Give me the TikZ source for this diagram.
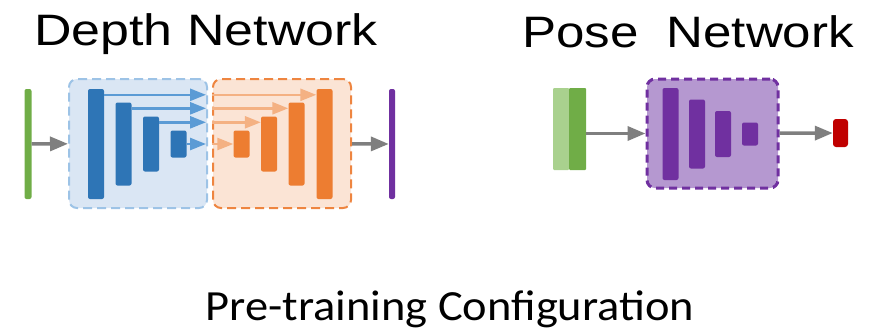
\documentclass[tikz,border=0pt]{standalone}
\usepackage{fontspec}
\setmainfont{Liberation Sans}
\newfontfamily\captionfont{Carlito}
\usepackage{graphicx}
\usetikzlibrary{arrows.meta}

\definecolor{encblue}{HTML}{2E75B6}
\definecolor{encfill}{HTML}{DAE6F4}
\definecolor{encline}{HTML}{9DC3E6}
\definecolor{skipblue}{HTML}{5B9BD5}
\definecolor{decorange}{HTML}{ED7D31}
\definecolor{decfill}{HTML}{FBE4D5}
\definecolor{decline}{HTML}{EE8540}
\definecolor{skiporange}{HTML}{F4B183}
\definecolor{imggreen}{HTML}{70AD47}
\definecolor{imglight}{HTML}{A9D18E}
\definecolor{posepurple}{HTML}{7030A0}
\definecolor{posefill}{HTML}{B598D0}
\definecolor{outred}{HTML}{C00000}
\definecolor{flowgray}{HTML}{7F7F7F}

\tikzset{
	bar/.style={draw=none, inner sep=0pt, rounded corners=2bp, minimum width=16bp},
	netbox/.style={inner sep=0pt, rounded corners=8bp, line width=2bp, dash pattern=on 9bp off 5bp},
	flow/.style={draw=flowgray, fill=flowgray, line width=3.5bp, -{Triangle[length=18bp,width=14bp]}},
	skip/.style={line width=2.5bp, -{Triangle[length=16bp,width=12bp]}},
}

\begin{document}
\begin{tikzpicture}[x=1bp, y=-1bp]
	\useasboundingbox (0,0) rectangle (894,330);

	% titles
	\node[anchor=base, inner sep=0pt] (tdepth) at (206,45) {\scalebox{1.18}[1]{\fontsize{44bp}{50bp}\selectfont Depth Network}};
	\node[anchor=base, inner sep=0pt] (tpose) at (688,47) {\scalebox{1.16}[1]{\fontsize{44bp}{50bp}\selectfont Pose\ \ Network}};
	\node[anchor=base, inner sep=0pt] (tconf) at (450,320) {\scalebox{1.08}[1]{\captionfont\fontsize{43bp}{50bp}\selectfont Pre-training Configuration}};

	% depth network
	\node[netbox, draw=encline, fill=encfill, minimum width=138bp, minimum height=129bp] (enc) at (138,143.5) {};
	\node[netbox, draw=decline, fill=decfill, minimum width=138bp, minimum height=129bp] (dec) at (282,143.5) {};
	\node[bar, fill=imggreen, minimum width=7bp, minimum height=110bp] (img) at (28,144) {};
	\node[bar, fill=posepurple, minimum width=6bp, minimum height=110bp] (depth) at (392,144) {};

	\foreach \i/\x/\h in {1/96/110, 2/123.5/83, 3/151/55, 4/178.5/27}
		\node[bar, fill=encblue, minimum height=\h bp] (e\i) at (\x,144) {};
	\foreach \i/\x/\h in {1/324.5/110, 2/296.5/83, 3/269/55, 4/241.5/27}
		\node[bar, fill=decorange, minimum height=\h bp] (d\i) at (\x,144) {};

	\foreach \i in {1,2,3}
		\draw[skip, draw=skipblue, fill=skipblue, shorten >=2bp] ([yshift=-6bp]e\i.north east) -- ([yshift=-6bp]e\i.north east -| enc.east);
	\draw[skip, draw=skipblue, fill=skipblue, shorten >=2bp] (e4.east) -- (e4.east -| enc.east);
	\foreach \i in {1,2,3}
		\draw[skip, draw=skiporange, fill=skiporange] ([yshift=-6bp]d\i.north west -| dec.west) -- ([yshift=-6bp]d\i.north west);
	\draw[skip, draw=skiporange, fill=skiporange] (d4.west -| dec.west) -- (d4.west);

	\draw[flow] (img) -- (enc);
	\draw[flow] (dec) -- (depth);

	% pose network
	\node[netbox, draw=posepurple, fill=posefill, line width=3bp, dash pattern=on 8bp off 5bp, minimum width=131bp, minimum height=109bp] (pose) at (712.5,133.5) {};
	\node[bar, fill=imglight, rounded corners=1bp, minimum width=16bp, minimum height=82bp] (src) at (561,129) {};
	\node[bar, fill=imggreen, rounded corners=1bp, minimum width=17bp, minimum height=82bp] (tgt) at (577.5,129) {};
	\foreach \i/\x/\h in {1/670.5/92, 2/697/69, 3/723/46, 4/750/23}
		\node[bar, fill=posepurple, minimum height=\h bp] (p\i) at (\x,134) {};
	\node[bar, fill=outred, rounded corners=3bp, minimum width=15bp, minimum height=28bp] (motion) at (840.5,133) {};

	\draw[flow] (tgt.east |- pose.west) -- (pose.west);
	\draw[flow] (pose) -- (motion);
\end{tikzpicture}
\end{document}
